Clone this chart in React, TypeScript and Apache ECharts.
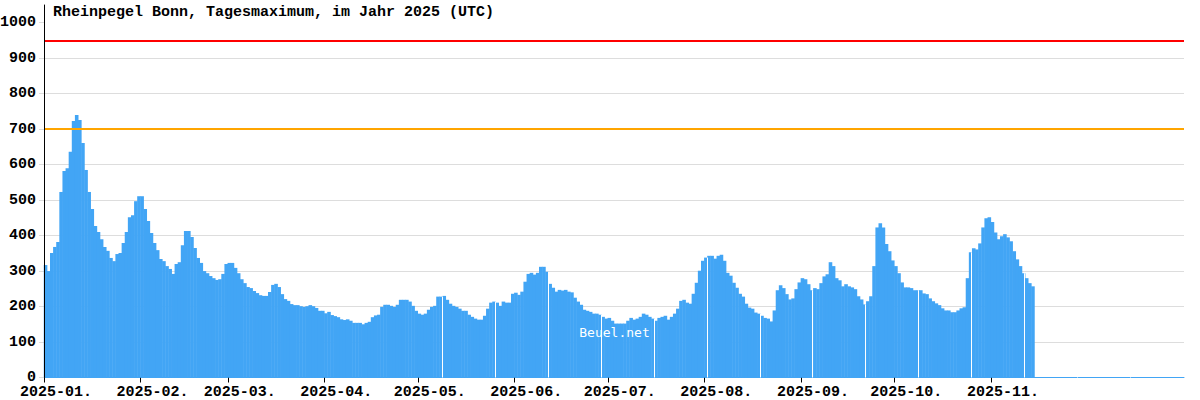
import React, { useEffect, useRef } from "react";
import * as echarts from "echarts";

const TITLE = "Rheinpegel Bonn, Tagesmaximum, im Jahr 2025 (UTC)";
const WATERMARK = "Beuel.net";
const AXIS_DAYS = 366;
const Y_MAX = 1050;

// first day (index) of each month shown on the axis, and its label
const monthStarts = [0, 31, 59, 90, 120, 151, 181, 212, 243, 273, 304];
const monthLabels = [
  "2025-01.", "2025-02.", "2025-03.", "2025-04.", "2025-05.", "2025-06.",
  "2025-07.", "2025-08.", "2025-09.", "2025-10.", "2025-11.",
];
const LABEL_SHIFT_DAYS = 3.85;

const yTicks = [0, 100, 200, 300, 400, 500, 600, 700, 800, 900, 1000];

// daily maximum water level (cm), Jan 1 .. Nov 14
const levels = [
  317, 300, 351, 368, 382, 523, 582, 590, 636, 723,
  740, 726, 661, 585, 523, 475, 427, 410, 390, 368,
  357, 337, 328, 348, 351, 379, 410, 452, 457, 497,
  511, 511, 475, 441, 407, 379, 359, 334, 328, 314,
  306, 292, 320, 325, 373, 413, 413, 396, 365, 337,
  323, 300, 294, 286, 280, 275, 277, 292, 320, 323,
  323, 309, 294, 277, 266, 255, 252, 244, 238, 232,
  230, 230, 241, 261, 264, 255, 235, 221, 216, 207,
  204, 204, 201, 199, 201, 204, 201, 196, 188, 188,
  181, 185, 176, 173, 170, 164, 162, 164, 160, 154,
  154, 154, 150, 154, 157, 170, 175, 177, 199, 205,
  205, 202, 199, 205, 219, 219, 219, 214, 202, 188,
  180, 177, 180, 191, 199, 202, 228, 228, 230, 219,
  208, 202, 199, 194, 188, 188, 177, 171, 166, 163,
  163, 174, 194, 211, 214, 211, 202, 214, 211, 211,
  236, 239, 233, 242, 270, 292, 295, 290, 295, 312,
  312, 298, 264, 253, 242, 247, 245, 247, 242, 240,
  225, 214, 205, 191, 188, 185, 180, 180, 177, 171,
  166, 168, 160, 152, 152, 152, 152, 160, 168, 163,
  166, 171, 180, 177, 171, 166, 160, 168, 171, 174,
  163, 171, 180, 194, 216, 219, 211, 208, 236, 267,
  301, 329, 338, 343, 343, 335, 343, 346, 329, 295,
  287, 267, 253, 236, 228, 208, 197, 194, 183, 180,
  174, 168, 166, 158, 189, 246, 260, 252, 235, 220,
  223, 249, 268, 280, 277, 263, 246, 252, 249, 266,
  285, 291, 325, 314, 280, 274, 257, 263, 257, 254,
  249, 229, 220, 206, 215, 229, 314, 423, 435, 423,
  376, 356, 330, 314, 294, 268, 254, 254, 252, 246,
  246, 246, 237, 235, 223, 215, 209, 204, 195, 189,
  189, 184, 184, 189, 195, 198, 280, 353, 364, 361,
  378, 423, 449, 452, 438, 409, 390, 398, 404, 395,
  384, 356, 333, 314, 294, 280, 266, 257,
];

// warning levels (cm)
const warnLevels = [
  { value: 950, color: "#ff0000" },
  { value: 700, color: "#ffa500" },
];

// thin white seams visible in the bars (day positions)
const seamDays = [127.8, 144.8, 161.8, 178.8, 195.8, 212.8, 229.8, 246.8, 263.8, 280.8, 297.8, 314.8, 331.8, 348.8];

const BAR_COLOR = "#42a5f5";
const FONT = '"Liberation Mono", "DejaVu Sans Mono", monospace';

export default function App() {
  const ref = useRef<HTMLDivElement>(null);

  useEffect(() => {
    if (!ref.current) return;
    const chart = echarts.init(ref.current, null, { renderer: "svg" });

    const barData = levels.map((v, i) => [i + 0.5, v]);
    const seamLines = seamDays.map((d) => {
      const v = levels[Math.floor(d)] ?? 0;
      return [
        { coord: [d, 0] },
        { coord: [d, Math.max(v, 3)] },
      ];
    });

    const labelValues = monthStarts.map((m) => m + LABEL_SHIFT_DAYS);

    chart.setOption({
      animation: false,
      backgroundColor: "#ffffff",
      title: {
        text: TITLE,
        left: 53,
        top: 5,
        padding: 0,
        textStyle: { fontFamily: FONT, fontSize: 15, fontWeight: "bold", color: "#000" },
      },
      grid: {
        left: 44,
        top: 5,
        width: 1140,
        height: 372.5,
        containLabel: false,
        outerBoundsMode: "none",
      },
      xAxis: {
        type: "value",
        min: 0,
        max: AXIS_DAYS,
        axisLine: { show: true, lineStyle: { color: BAR_COLOR, width: 1 } },
        axisTick: {
          show: true,
          length: 5,
          customValues: monthStarts,
          lineStyle: { color: "#000" },
        },
        axisLabel: {
          customValues: labelValues,
          margin: 9,
          lineHeight: 12,
          fontFamily: FONT,
          fontSize: 15,
          fontWeight: "bold",
          color: "#000",
          hideOverlap: false,
          formatter: (val: number) => {
            const idx = labelValues.findIndex((l) => Math.abs(l - val) < 0.01);
            return idx >= 0 ? monthLabels[idx] : "";
          },
        },
        splitLine: { show: false },
      },
      yAxis: [
        {
          type: "value",
          min: 0,
          max: Y_MAX,
          interval: 100,
          axisLine: { show: false },
          axisTick: {
            show: true,
            length: 5,
            customValues: yTicks,
            lineStyle: { color: "#dddddd" },
          },
          axisLabel: {
            customValues: yTicks,
            margin: 8,
            lineHeight: 11,
            fontFamily: FONT,
            fontSize: 15,
            fontWeight: "bold",
            color: "#000",
            formatter: (v: number) => String(v),
          },
          splitLine: { show: true, showMaxLine: false, lineStyle: { color: "#dddddd", width: 1 } },
        },
        {
          type: "value",
          min: 0,
          max: Y_MAX,
          position: "left",
          z: 10,
          axisLine: { show: true, lineStyle: { color: "#000", width: 1 } },
          axisTick: { show: false },
          axisLabel: { show: false },
          splitLine: { show: false },
        },
      ],
      graphic: [
        {
          type: "text",
          x: 614.5,
          y: 332,
          z: 100,
          silent: true,
          style: {
            text: WATERMARK,
            fill: "#ffffff",
            font: '13px "DejaVu Sans Mono", monospace',
            textAlign: "center",
            textVerticalAlign: "middle",
          },
        },
      ],
      series: [
        {
          type: "bar",
          data: barData,
          xAxisIndex: 0,
          yAxisIndex: 0,
          barWidth: 3.6,
          itemStyle: { color: BAR_COLOR },
          silent: true,
          markLine: {
            silent: true,
            symbol: "none",
            label: { show: false },
            data: [
              ...warnLevels.map((w) => ({
                yAxis: w.value,
                lineStyle: { color: w.color, width: 2, type: "solid" },
              })),
              ...seamLines.map((pair) =>
                pair.map((p) => ({ ...p, lineStyle: { color: "#ffffff", width: 1, type: "solid" } }))
              ),
            ],
          },
        },
      ],
    });

    return () => chart.dispose();
  }, []);

  return (
    <div
      ref={ref}
      style={{ position: "fixed", left: 0, top: 0, width: 1200, height: 400, background: "#fff" }}
    />
  );
}
